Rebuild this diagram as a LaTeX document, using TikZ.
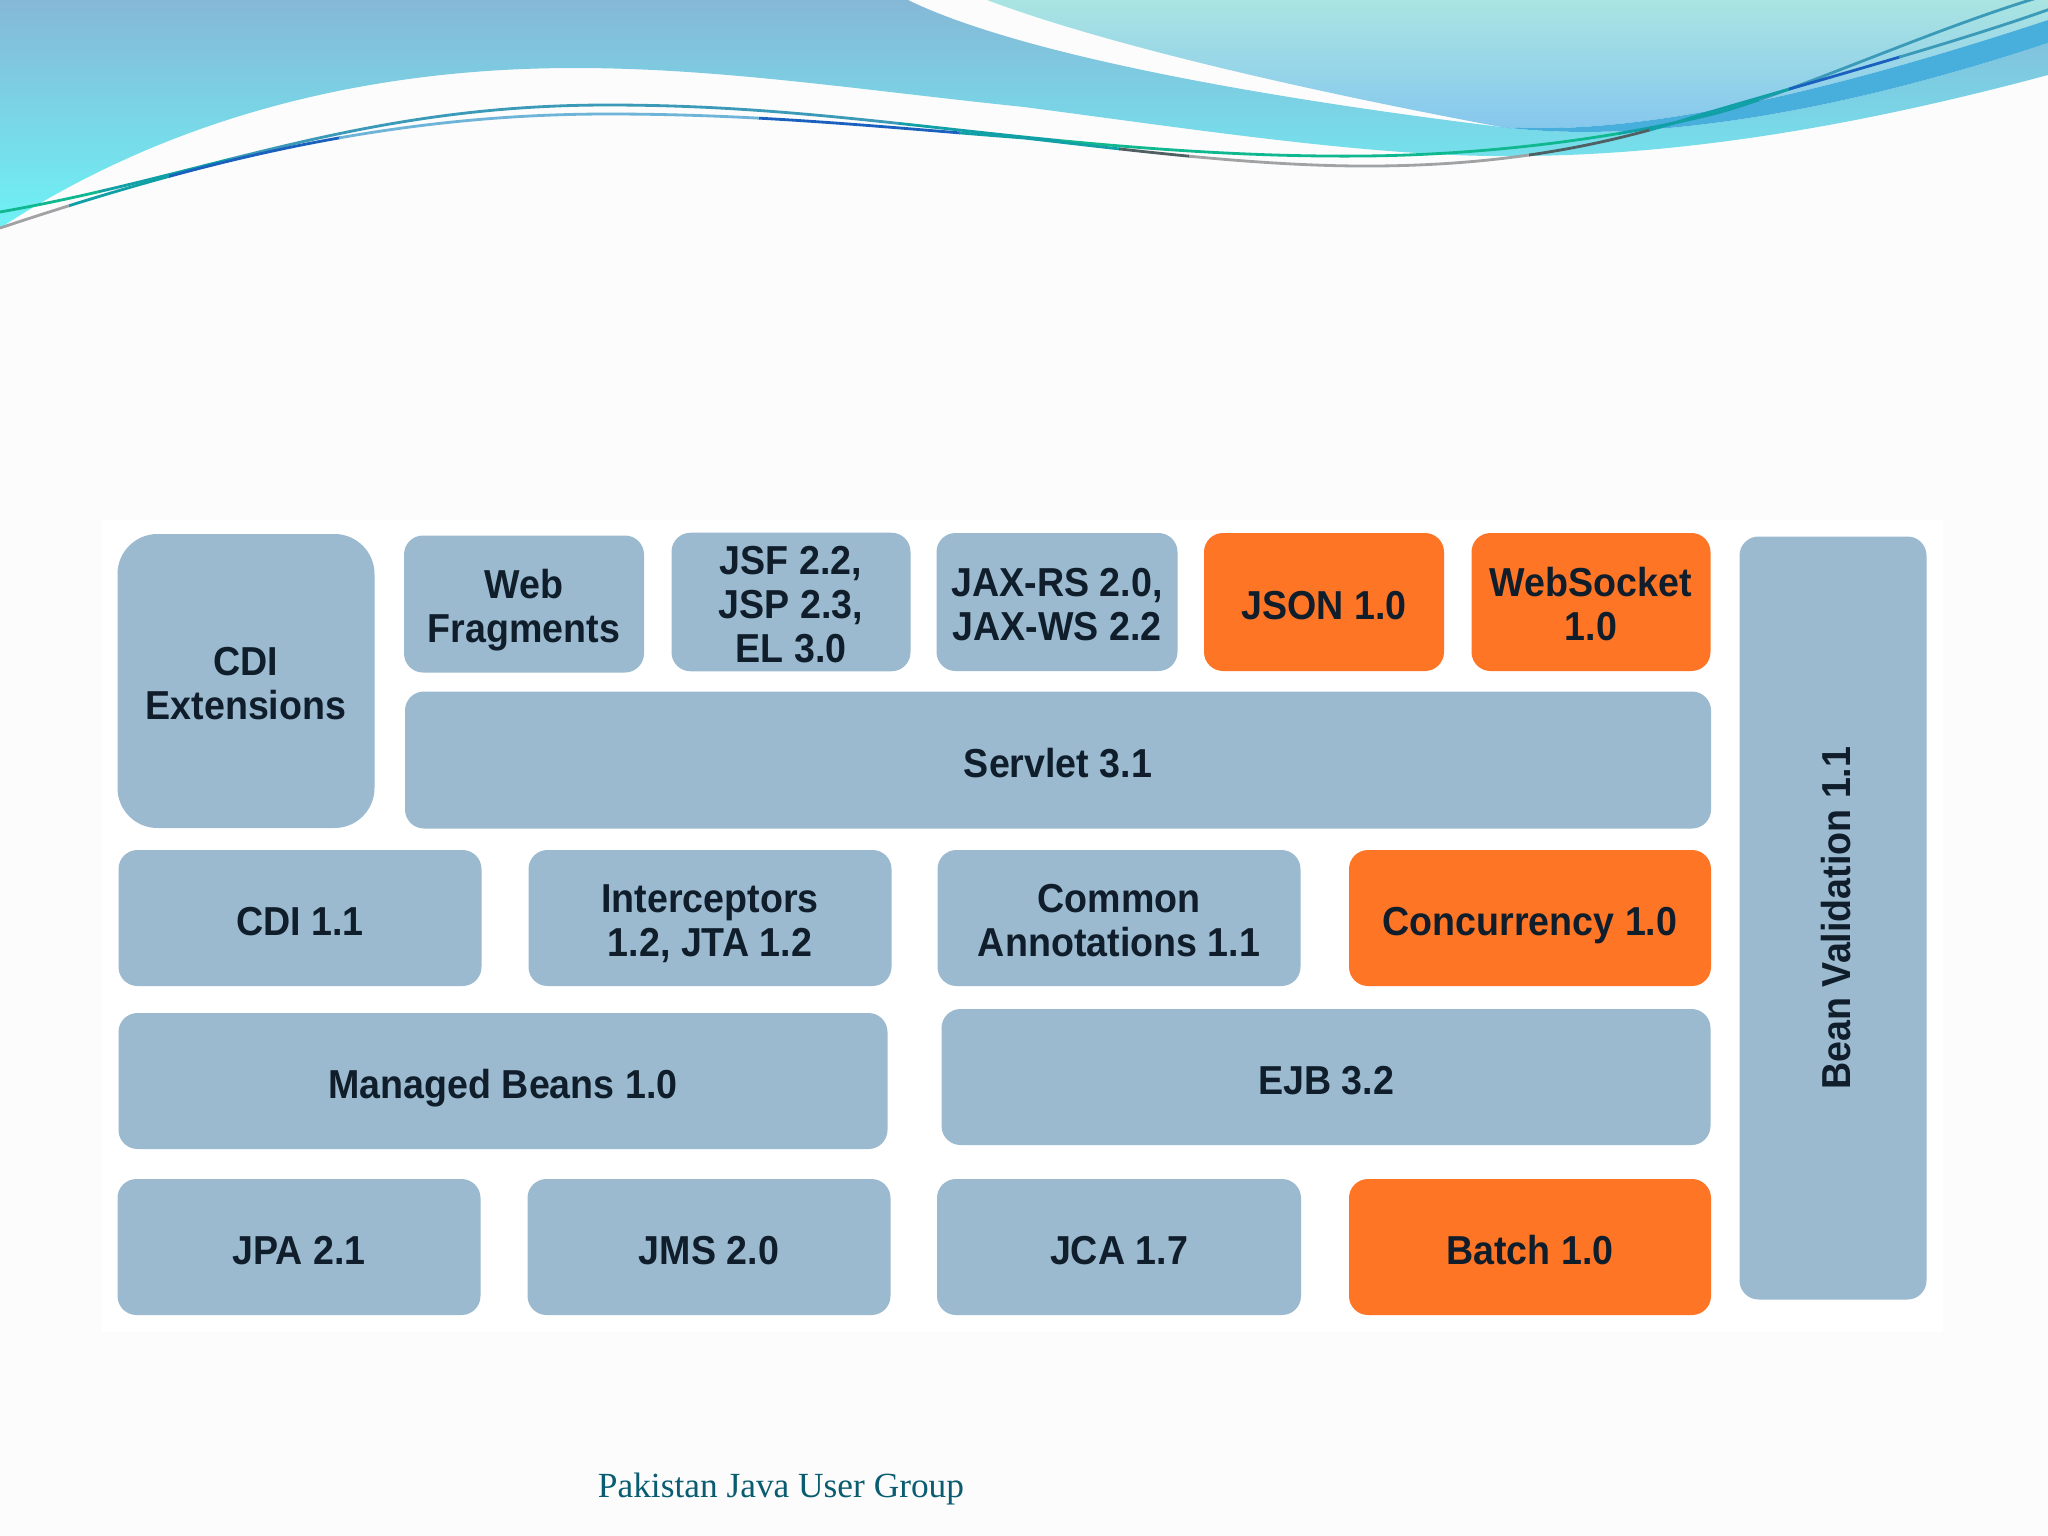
\documentclass[tikz,border=0pt]{standalone}
\usepackage{fontspec}
\setmainfont[FakeStretch=0.93]{Liberation Sans}
\newfontfamily\footerfont{Liberation Serif}
\definecolor{pagebg}{RGB}{252, 252, 253}
\definecolor{stackblue}{RGB}{155, 186, 207}
\definecolor{stackorange}{RGB}{255, 117, 38}
\definecolor{stackink}{RGB}{16, 30, 44}
\definecolor{footerteal}{RGB}{10, 92, 112}
\definecolor{wavegreen}{RGB}{16, 184, 144}
\definecolor{waveteal}{RGB}{16, 160, 165}
\definecolor{wavesteel}{RGB}{58, 154, 184}
\definecolor{waveblue}{RGB}{26, 96, 190}
\definecolor{wavesky}{RGB}{110, 180, 216}
\definecolor{wavegray}{RGB}{160, 162, 164}
\definecolor{wavedark}{RGB}{80, 95, 98}
\definecolor{wedgeblue}{RGB}{72, 174, 220}
\newcommand{\dropline}{\rule{0pt}{12pt}}
\tikzset{
  boxsize/.style 2 args={minimum width=#1*0.01cm, minimum height=#2*0.01cm},
  stackbox/.style={fill=stackblue, rounded corners=0.19cm, inner sep=0pt, align=center,
    text=stackink, font=\fontsize{11.5}{12.5}\selectfont\bfseries,
    execute at begin node={\rule{0pt}{12.4pt}},
    execute at end node={\rule[-2.4pt]{0pt}{0pt}}},
  hotbox/.style={stackbox, fill=stackorange},
}
\def\upperwave{(0,212) .. controls (210,175) and (360,105) .. (608,105)
  .. controls (760,105) and (880,122) .. (1024,137)
  .. controls (1150,150) and (1260,157) .. (1364,156)
  .. controls (1480,155) and (1610,140) .. (1717,113)
  .. controls (1800,90) and (1930,30) .. (2040,-3)}
\def\lowerwave{(0,228) .. controls (190,165) and (380,114) .. (608,114)
  .. controls (760,114) and (880,127) .. (1024,138)
  .. controls (1130,150) and (1260,167) .. (1377,166)
  .. controls (1490,165) and (1590,150) .. (1690,118)
  .. controls (1790,88) and (1950,45) .. (2053,8)}

\begin{document}
\begin{tikzpicture}[x=0.01cm, y=-0.01cm]
  \useasboundingbox (0,0) rectangle (2048,1536);
  \fill[pagebg] (0,0) rectangle (2048,1536);
  \fill[white] (102,520) rectangle (1943,1332);

  % Waves at the top
  \shade[top color={rgb,255:red,133;green,184;blue,214}, middle color={rgb,255:red,122;green,205;blue,226}, bottom color={rgb,255:red,110;green,242;blue,246}]
    (0,0) -- (908,0) .. controls (1000,45) and (1200,90) .. (1501,127)
    .. controls (1620,142) and (1800,125) .. (2048,43)
    -- (2048,75) .. controls (1880,120) and (1700,155) .. (1520,156)
    .. controls (1380,158) and (1200,130) .. (1024,107)
    .. controls (860,90) and (720,68) .. (575,68)
    .. controls (340,68) and (150,130) .. (0,228) -- cycle;
  \shade[top color={rgb,255:red,170;green,228;blue,226}, bottom color={rgb,255:red,132;green,198;blue,238}]
    (987,0) .. controls (1080,35) and (1250,80) .. (1501,127)
    .. controls (1620,135) and (1790,105) .. (2048,20)
    -- (2048,0) -- cycle;
  \fill[wedgeblue] (1501,127) .. controls (1620,142) and (1800,125) .. (2048,43)
    -- (2048,20) .. controls (1790,105) and (1620,135) .. (1501,127) -- cycle;

  % Thin lines over the waves
  \foreach \xa/\xb/\col in {0/100/wavegreen, 99/230/waveteal, 229/900/wavesteel, 899/1060/waveteal, 1059/1620/wavegreen, 1619/1760/waveteal, 1759/2048/wavesteel} {
    \begin{scope}
      \clip (\xa,-10) rectangle (\xb,300);
      \draw[\col, line width=0.8pt] \upperwave;
    \end{scope}
  }
  \foreach \xa/\xb/\col in {0/70/wavegray, 69/170/waveteal, 169/340/waveblue, 339/760/wavesky, 759/960/waveblue, 959/1120/waveteal, 1119/1190/wavedark, 1189/1530/wavegray, 1529/1650/wavedark, 1649/1790/waveteal, 1789/1900/waveblue, 1899/2048/wavesteel} {
    \begin{scope}
      \clip (\xa,-10) rectangle (\xb,300);
      \draw[\col, line width=0.8pt] \lowerwave;
    \end{scope}
  }

  % Top rows
  \node[stackbox, boxsize={257}{294}, rounded corners=0.4cm] (cdiext) at (246,681) {\dropline CDI\\Extensions};
  \node[stackbox, boxsize={240}{137}] (webfrag) at (524,604) {\dropline Web\\Fragments};
  \node[stackbox, boxsize={239}{138}] (jsf) at (791,602) {\dropline JSF 2.2,\\JSP 2.3,\\EL 3.0};
  \node[stackbox, boxsize={241}{138}] (jaxrs) at (1057,602) {\dropline JAX-RS 2.0,\\JAX-WS 2.2};
  \node[hotbox, boxsize={240}{138}] (json) at (1324,602) {JSON 1.0};
  \node[hotbox, boxsize={239}{138}] (websocket) at (1591,602) {\dropline WebSocket\\1.0};
  \node[stackbox, boxsize={1306}{137}] (servlet) at (1058,760) {Servlet 3.1};

  % Middle rows
  \node[stackbox, boxsize={363}{136}] (cdi) at (300,918) {CDI 1.1};
  \node[stackbox, boxsize={363}{136}] (interceptors) at (710,918) {\dropline Interceptors\\1.2, JTA 1.2};
  \node[stackbox, boxsize={363}{136}] (annotations) at (1119,918) {\dropline Common\\Annotations 1.1};
  \node[hotbox, boxsize={362}{136}] (concurrency) at (1530,918) {Concurrency 1.0};
  \node[stackbox, boxsize={769}{136}] (managed) at (503,1081) {Managed Beans 1.0};
  \node[stackbox, boxsize={769}{136}] (ejb) at (1326,1077) {EJB 3.2};

  % Bottom row
  \node[stackbox, boxsize={363}{136}] (jpa) at (299,1247) {JPA 2.1};
  \node[stackbox, boxsize={363}{136}] (jms) at (709,1247) {JMS 2.0};
  \node[stackbox, boxsize={364}{136}] (jca) at (1119,1247) {JCA 1.7};
  \node[hotbox, boxsize={362}{136}] (batch) at (1530,1247) {Batch 1.0};

  % Right column
  \node[stackbox, boxsize={763}{187}, rotate=90] (beanval) at (1833,918) {Bean Validation 1.1};

  \node[text=footerteal, font=\footerfont\fontsize{10.05}{12}\selectfont] (footer) at (781,1489) {Pakistan Java User Group};
\end{tikzpicture}
\end{document}
